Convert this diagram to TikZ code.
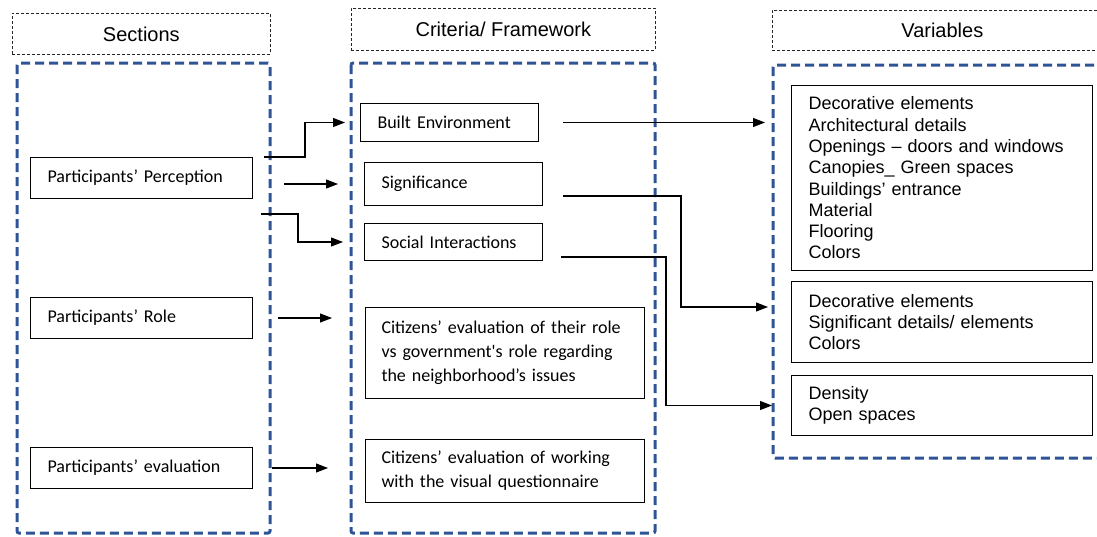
\documentclass[tikz,border=0pt]{standalone}
\usepackage{fontspec}
\setmainfont{Carlito}
\newfontfamily\arialfont{Liberation Sans}
\usetikzlibrary{arrows.meta, positioning}
\definecolor{frameblue}{HTML}{2F5496}

\begin{document}
\begin{tikzpicture}[x=1pt, y=-1pt,
  header/.style={draw=black!85, dash pattern=on 3pt off 2pt, line width=0.7pt, anchor=north west,
    inner sep=0pt, font=\arialfont\fontsize{20}{23}\selectfont},
  frame/.style={draw=frameblue, line width=3pt, dash pattern=on 9pt off 5pt, rounded corners=2pt},
  itembox/.style={draw, line width=1pt, anchor=north west, align=left, inner xsep=17pt, inner ysep=0pt,
    font=\fontsize{18}{24}\selectfont},
  varbox/.style={itembox, text width=267pt, font=\arialfont\fontsize{18}{21.3}\selectfont},
  arrow/.style={-{Triangle[length=12pt, width=9pt]}, line width=1.1pt}
]
\useasboundingbox (0,0) rectangle (1097,536);
\clip (0,0) rectangle (1097,536);

% column headers
\node[header, minimum width=258pt, minimum height=41pt] (hsec) at (12,13) {Sections};
\node[header, minimum width=304pt, minimum height=42pt] (hcrit) at (351,8) {Criteria/ Framework};
\node[header, minimum width=340pt, minimum height=40pt] (hvar) at (772,10) {Variables};

% blue frames
\draw[frame] (17,63) rectangle (270,533);
\draw[frame] (351,63) rectangle (655,533);
\draw[frame] (773,65) rectangle (1110,458);

% sections
\node[itembox, text width=188pt, minimum height=41pt] (perc) at (30,157) {Participants’ Perception};
\node[itembox, text width=188pt, minimum height=41pt] (role) at (30,297) {Participants’ Role};
\node[itembox, text width=188pt, minimum height=41pt] (eval) at (30,447) {Participants’ evaluation};

% criteria
\node[itembox, text width=144pt, minimum height=38pt] (built) at (360,103) {Built Environment};
\node[itembox, text width=144pt, minimum height=43pt] (sig) at (364,162) {Significance};
\node[itembox, text width=144pt, minimum height=37pt] (soc) at (364,223) {Social Interactions};
\node[itembox, text width=247pt, inner xsep=16pt, minimum height=91pt] (citrole) at (365,307)
  {Citizens’ evaluation of their role\\vs government\textquotesingle s role regarding\\the neighborhood’s issues};
\node[itembox, text width=247pt, inner xsep=16pt, minimum height=63pt] (citwork) at (365,439)
  {Citizens’ evaluation of working\\with the visual questionnaire};

% variables
\node[varbox, minimum height=185pt] (varbuilt) at (791,85)
  {Decorative elements\\Architectural details\\Openings – doors and windows\\Canopies\_ Green spaces\\Buildings’ entrance\\Material\\Flooring\\Colors};
\node[varbox, minimum height=81pt] (varsig) at (791,281)
  {Decorative elements\\Significant details/ elements\\Colors};
\node[varbox, minimum height=60pt] (varsoc) at (791,375)
  {Density\\Open spaces};

% arrows
\draw[arrow, shorten <=11pt, shorten >=15pt] (perc.north east) -- ++(52,0) |- (built.west);
\draw[arrow, shorten <=31pt, shorten >=26pt] (sig.west -| perc.east) -- (sig.west);
\draw[arrow, shorten <=8pt, shorten >=21pt] ([yshift=-15pt]perc.south east) -- ++(45,0) |- (soc.west);
\draw[arrow, shorten <=25pt, shorten >=33pt] (role.east) -- (role.east -| citrole.west);
\draw[arrow, shorten <=19pt, shorten >=37pt] (eval.east) -- (eval.east -| citwork.west);
\draw[arrow, shorten <=24pt, shorten >=26pt] (built.east) -- (built.east -| varbuilt.west);
\draw[arrow, shorten <=20pt, shorten >=23pt] ([yshift=10pt]sig.south east) -- ++(138,0) |- ([yshift=15pt]varsig.west);
\draw[arrow, shorten <=18pt, shorten >=19pt] ([yshift=4pt]soc.south east) -- ++(123,0) |- (varsoc.west);
\end{tikzpicture}
\end{document}
